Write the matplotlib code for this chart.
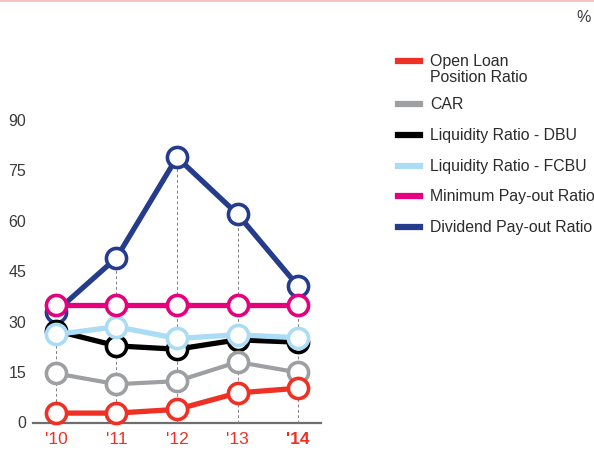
import numpy as np
import matplotlib.pyplot as plt
from matplotlib.lines import Line2D

plt.rcParams['font.family'] = ['Liberation Sans', 'DejaVu Sans']

years = ["'10", "'11", "'12", "'13", "'14"]
yticks = [0, 15, 30, 45, 60, 75, 90]

open_loan = [2.8, 2.8, 3.9, 8.8, 10.2]
car = [14.6, 11.4, 12.3, 18.0, 14.9]
liq_dbu = [27.3, 22.8, 21.8, 24.6, 23.9]
liq_fcbu = [26.2, 28.5, 25.0, 26.1, 25.2]
min_payout = [35.1, 35.1, 35.1, 35.1, 35.1]
div_payout = [33.0, 49.0, 78.9, 62.0, 40.6]

names = ['Open Loan\nPosition Ratio', 'CAR', 'Liquidity Ratio - DBU',
         'Liquidity Ratio - FCBU', 'Minimum Pay-out Ratio', 'Dividend Pay-out Ratio']
colors = ['#ee3124', '#9d9fa2', '#000000', '#abdcf6', '#e6007e', '#253c8c']
series = [open_loan, car, liq_dbu, liq_fcbu, min_payout, div_payout]
widths = [3.8, 3.0, 3.8, 3.8, 3.8, 3.8]
zorders = [7, 6, 3, 4, 5, 2]

fig = plt.figure(figsize=(5.94, 4.53), dpi=100)
ax = fig.add_axes([33/594, (453-422.5)/453, (321-33)/594, (422.5-120)/453])

x = np.arange(len(years))

# dashed guides from the axis up to the highest point of each year
tops = np.max(np.array(series), axis=0)
for xi, t in zip(x, tops):
    ax.plot([xi, xi], [0, t], ls=(0, (3, 2.5)), color='#808080', lw=0.7, zorder=1,
            clip_on=False)

for vals, c, w, z in zip(series, colors, widths, zorders):
    ax.plot(x, vals, color=c, lw=w, marker='o', ms=14.5, mfc='white', mec=c,
            mew=2.6, zorder=z, clip_on=False)

ax.set_xlim(-0.38, 4.38)
ax.set_ylim(0, 90)
ax.set_xticks(x)
ax.set_xticklabels(years, color='#ee3124', fontsize=12.5)
ax.get_xticklabels()[-1].set_fontweight('bold')
ax.set_yticks(yticks)
ax.set_yticklabels([str(v) for v in yticks], color='#3a3a3a', fontsize=11.5)
ax.tick_params(length=0)
ax.tick_params(axis='x', pad=7)
ax.tick_params(axis='y', pad=5)
for s in ['top', 'right', 'left']:
    ax.spines[s].set_visible(False)
ax.spines['bottom'].set_color('#6d6e71')
ax.spines['bottom'].set_linewidth(1.6)
ax.spines['bottom'].set_zorder(0)

# thin rule across the top of the page
fig.add_artist(Line2D([0, 1], [1 - 1/453, 1 - 1/453], color='#f7c3c3', lw=1.5))
fig.text(584/594, 1 - 17/453, '%', ha='center', va='center', fontsize=11.5,
         color='#3a3a3a')

# legend
leg_y = [61, 104, 135, 166, 196, 227]
for name, c, yy in zip(names, colors, leg_y):
    fy = 1 - yy/453
    fig.add_artist(Line2D([398/594, 420/594], [fy, fy], color=c, lw=4.5))
    fig.text(430/594, 1 - (yy - 7)/453, name, ha='left', va='top', fontsize=11.4,
             color='#2b2b2b', linespacing=1.05)

fig.savefig('out.png', dpi=100)
